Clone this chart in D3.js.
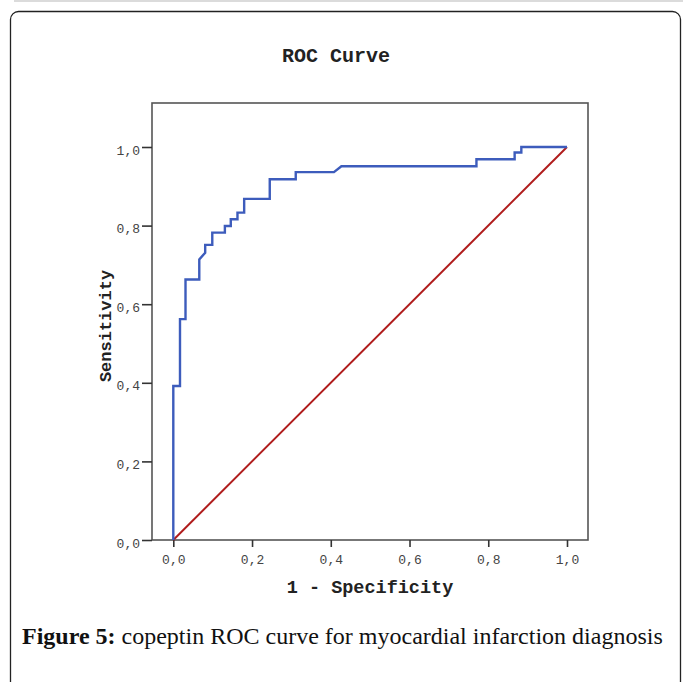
<!DOCTYPE html>
<html>
<head>
<meta charset="utf-8">
<script src="https://cdn.jsdelivr.net/npm/d3@7"></script>
<style>
  html, body { margin: 0; padding: 0; background: #fff; }
  svg { display: block; }
</style>
</head>
<body>
<svg id="chart" width="683" height="682"></svg>
<script>
// ---- data ----
const titleText = "ROC Curve";
const xTitle = "1 - Specificity";
const yTitle = "Sensitivity";
const captionBold = "Figure 5:";
const captionRest = " copeptin ROC curve for myocardial infarction diagnosis";
const tickValues = [0, 0.2, 0.4, 0.6, 0.8, 1.0];
const tickLabels = ["0,0", "0,2", "0,4", "0,6", "0,8", "1,0"];
// ROC curve points (1 - specificity, sensitivity)
const fpr = [0, 0, 0.017, 0.017, 0.031, 0.031, 0.066, 0.066, 0.081, 0.081, 0.099, 0.099,
             0.131, 0.131, 0.146, 0.146, 0.163, 0.163, 0.180, 0.180, 0.245, 0.245,
             0.311, 0.311, 0.408, 0.427, 0.770, 0.770, 0.867, 0.867, 0.884, 0.884, 1.0];
const tpr = [0, 0.392, 0.392, 0.562, 0.562, 0.663, 0.663, 0.714, 0.731, 0.751, 0.751, 0.782,
             0.782, 0.799, 0.799, 0.816, 0.816, 0.833, 0.833, 0.868, 0.868, 0.918,
             0.918, 0.936, 0.936, 0.951, 0.951, 0.969, 0.969, 0.986, 0.986, 1.0, 1.0];
// reference line
const refX = [0, 1];
const refY = [0, 1];

// ---- layout ----
const svg = d3.select("#chart");
const frame = { left: 152, right: 588, top: 103, bottom: 540 };

// card border
svg.append("line").attr("x1", 14).attr("x2", 683).attr("y1", 1).attr("y2", 1)
  .attr("stroke", "#cfcfcf").attr("stroke-width", 1.5);
svg.append("rect").attr("x", 10.5).attr("y", 11.5).attr("width", 670).attr("height", 720)
  .attr("rx", 8).attr("ry", 8).attr("fill", "none").attr("stroke", "#222").attr("stroke-width", 1.3);

const x = d3.scaleLinear().domain([0, 1]).range([173.3, 567]);
const y = d3.scaleLinear().domain([0, 1]).range([540, 147]);

// frame
svg.append("rect").attr("x", frame.left).attr("y", frame.top)
  .attr("width", frame.right - frame.left).attr("height", frame.bottom - frame.top)
  .attr("fill", "none").attr("stroke", "#555").attr("stroke-width", 1.6);

// axes
const xAxis = d3.axisBottom(x).tickValues(tickValues)
  .tickFormat((d, i) => tickLabels[i]).tickSize(7).tickPadding(8);
const gx = svg.append("g").attr("transform", `translate(0,${frame.bottom})`).call(xAxis);
gx.select(".domain").remove();
gx.selectAll(".tick line").attr("stroke", "#333").attr("stroke-width", 1.6);
gx.selectAll(".tick text").attr("font-family", "Liberation Mono, monospace")
  .attr("font-size", 13).attr("fill", "#444");

const yAxis = d3.axisLeft(y).tickValues(tickValues)
  .tickFormat((d, i) => tickLabels[i]).tickSize(10).tickPadding(2);
const gy = svg.append("g").attr("transform", `translate(${frame.left},0)`).call(yAxis);
gy.select(".domain").remove();
gy.selectAll(".tick line").attr("stroke", "#333").attr("stroke-width", 1.6);
gy.selectAll(".tick text").attr("font-family", "Liberation Mono, monospace")
  .attr("font-size", 13).attr("fill", "#444").attr("dy", "0.55em");

// reference diagonal
const refData = refX.map((v, i) => [v, refY[i]]);
svg.append("path").datum(refData)
  .attr("d", d3.line().x(d => x(d[0])).y(d => y(d[1])))
  .attr("fill", "none").attr("stroke", "#b01c1c").attr("stroke-width", 2);

// ROC curve
const rocData = fpr.map((v, i) => [v, tpr[i]]);
svg.append("path").datum(rocData)
  .attr("d", d3.line().x(d => x(d[0])).y(d => y(d[1])))
  .attr("fill", "none").attr("stroke", "#3d5cbc").attr("stroke-width", 2.4)
  .attr("stroke-linejoin", "miter");

// titles
svg.append("text").attr("x", 336).attr("y", 62).attr("text-anchor", "middle")
  .attr("font-family", "Liberation Mono, monospace").attr("font-weight", "bold")
  .attr("font-size", 20).attr("fill", "#222").text(titleText);

svg.append("text").attr("x", 370).attr("y", 592.5).attr("text-anchor", "middle")
  .attr("font-family", "Liberation Mono, monospace").attr("font-weight", "bold")
  .attr("font-size", 18.5).attr("fill", "#222").text(xTitle);

svg.append("text").attr("transform", "translate(111,326) rotate(-90)")
  .attr("text-anchor", "middle")
  .attr("font-family", "Liberation Mono, monospace").attr("font-weight", "bold")
  .attr("font-size", 17).attr("fill", "#222").text(yTitle);

// caption
const cap = svg.append("text").attr("x", 22).attr("y", 644)
  .attr("font-family", "Liberation Serif, serif").attr("font-size", 24).attr("fill", "#111");
cap.append("tspan").attr("font-weight", "bold").text(captionBold);
cap.append("tspan").text(captionRest);
</script>
</body>
</html>
